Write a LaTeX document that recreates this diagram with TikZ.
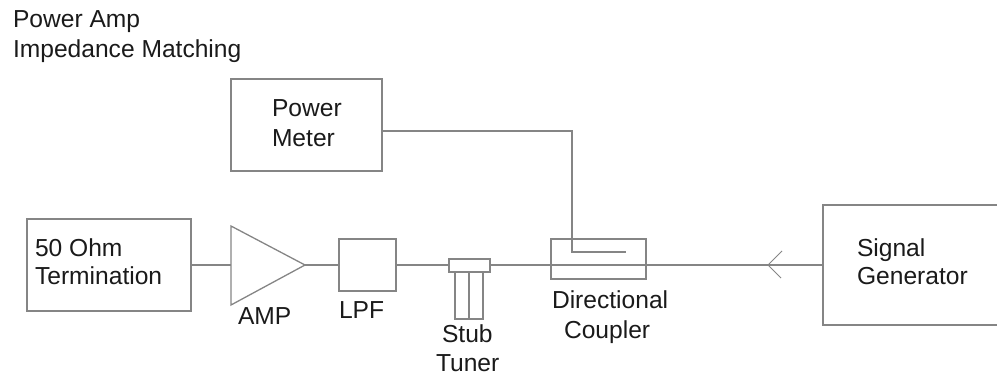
\documentclass[tikz,border=0pt]{standalone}
\usepackage{fontspec}
\setmainfont{Liberation Sans}
\tikzset{
  x=1pt,y=-1pt,
  wire/.style={draw=linegray,line width=1.3pt},
  blockbox/.style={wire,rectangle,inner sep=0pt,outer sep=0pt,anchor=north west},
  lbl/.style={anchor=base west,inner sep=0pt,outer sep=0pt,text=textdark,font=\fontsize{24.6}{26}\selectfont}
}
\definecolor{linegray}{HTML}{858585}
\definecolor{textdark}{HTML}{1A1A1A}
\begin{document}
\begin{tikzpicture}
\useasboundingbox (0,0) rectangle (997,375);
% blocks
\node[blockbox,minimum width=164pt,minimum height=92pt] (term) at (27,219) {};
\node[blockbox,minimum width=57pt,minimum height=52pt] (lpf) at (339,239) {};
\node[blockbox,minimum width=151pt,minimum height=92pt] (meter) at (231,79) {};
\node[blockbox,minimum width=95pt,minimum height=40pt] (coupler) at (551,239) {};
\begin{scope}
\clip (800,190) rectangle (997,340);
\node[blockbox,minimum width=190pt,minimum height=120pt] (gen) at (823,205) {};
\end{scope}
% amplifier
\coordinate (ampA) at (231,226);
\coordinate (ampB) at (231,305);
\coordinate (ampOut) at (305,265);
\coordinate (ampIn) at (231,265);
\draw[wire,line join=miter] (ampA) -- (ampOut) -- (ampB) -- cycle;
% stub tuner
\node[blockbox,minimum width=28pt,minimum height=48pt] (stubbody) at (455,271) {};
\node[blockbox,minimum width=41pt,minimum height=13pt,fill=white] (stubcap) at (449,259) {};
\draw[wire] (stubbody.south |- stubcap.south) -- (stubbody.south);
% connectors
\draw[wire] (term.east |- ampIn) -- (ampIn);
\draw[wire] (ampOut) -- (lpf.west |- ampOut);
\draw[wire] (lpf.east |- ampOut) -- (stubcap.west |- ampOut);
\draw[wire] (stubcap.east |- ampOut) -- (gen.west |- ampOut);
% coupled line
\coordinate (tap) at (572,252);
\coordinate (tapEnd) at (626,252);
\coordinate (meterOut) at (382,131);
\draw[wire] (meterOut) -| (tap) -- (tapEnd);
% arrow
\coordinate (tip) at (768,265);
\coordinate (barbA) at (782,251);
\coordinate (barbB) at (781,278);
\draw[wire,line width=1pt] (barbA) -- (tip) -- (barbB);
% labels
\node[lbl] (t1) at (13,27) {Power Amp};
\node[lbl] (t2) at (13,57) {Impedance Matching};
\node[lbl] (t3) at (272,116) {Power};
\node[lbl] (t4) at (272,146) {Meter};
\node[lbl] (t5) at (35,256) {50 Ohm};
\node[lbl] (t6) at (35,284) {Termination};
\node[lbl] (t7) at (238,324) {AMP};
\node[lbl] (t8) at (339,318) {LPF};
\node[lbl] (t9) at (442,342) {Stub};
\node[lbl] (t10) at (436,371) {Tuner};
\node[lbl] (t11) at (552,308) {Directional};
\node[lbl] (t12) at (564,338) {Coupler};
\node[lbl] (t13) at (857,256) {Signal};
\node[lbl] (t14) at (857,284) {Generator};
\end{tikzpicture}
\end{document}
